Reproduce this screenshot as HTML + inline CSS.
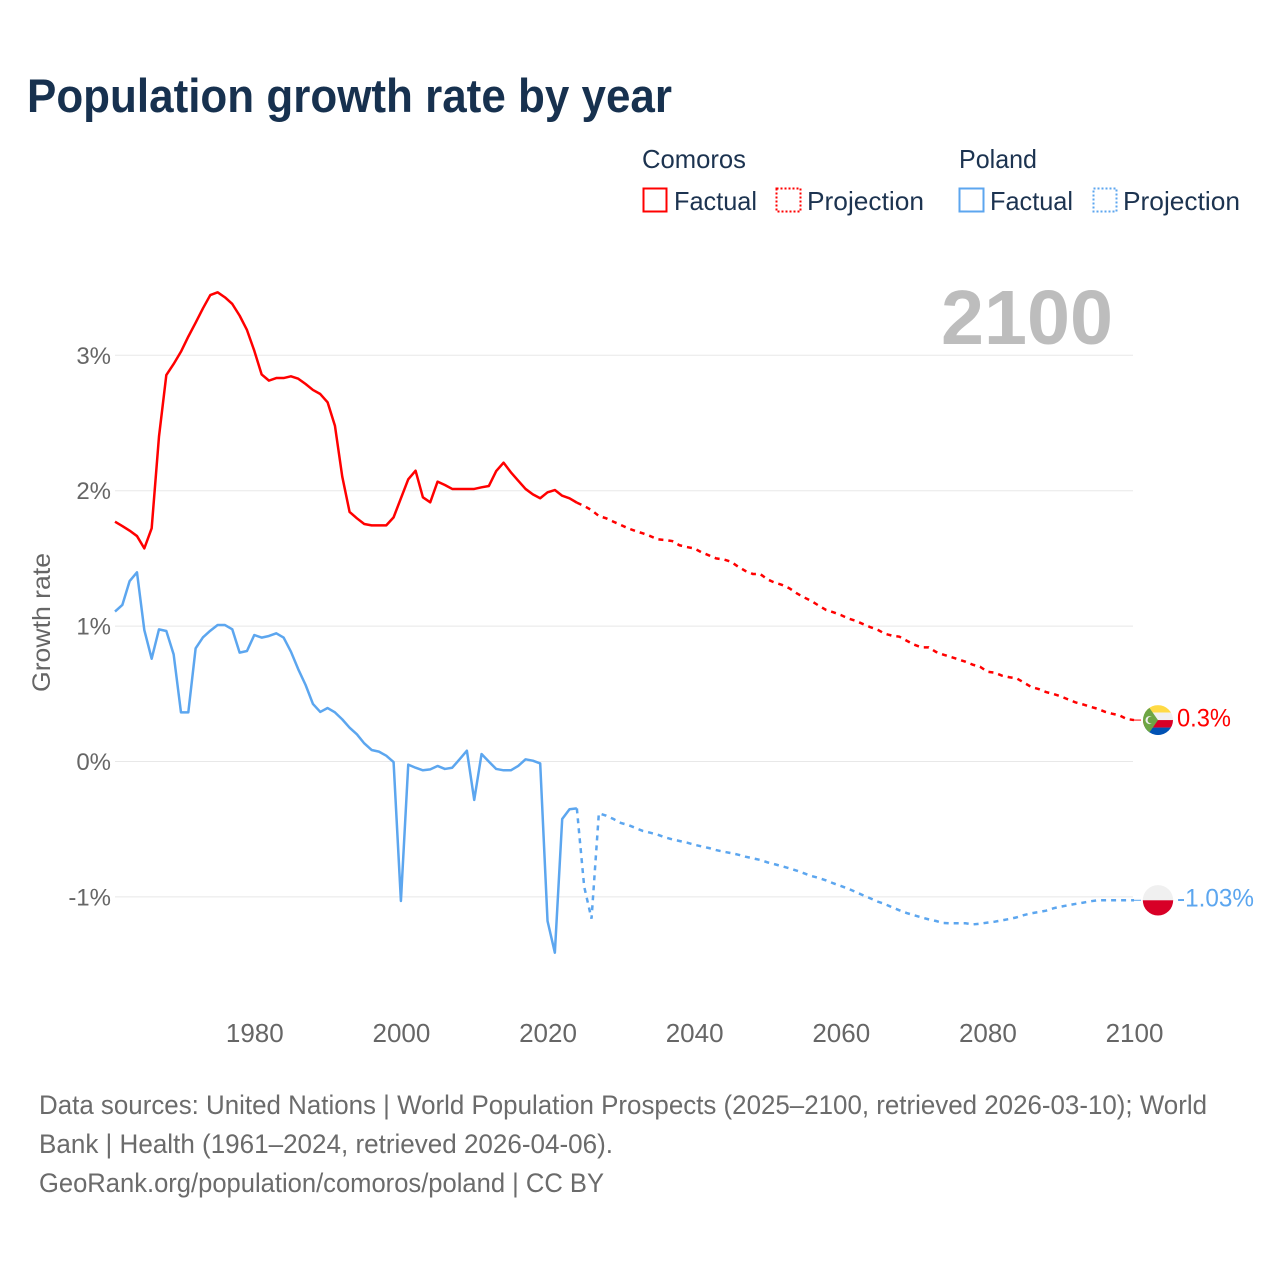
<!DOCTYPE html>
<html lang="en">
<head>
<meta charset="utf-8">
<title>Population growth rate by year</title>
<style>
  html, body { margin: 0; padding: 0; background: #ffffff; }
  #chart-root { width: 1280px; height: 1280px; display: block; }
  text { font-family: "Liberation Sans", sans-serif; }
</style>
</head>
<body>
<svg id="chart-root" xmlns="http://www.w3.org/2000/svg" width="1280" height="1280" viewBox="0 0 1280 1280">
  <rect x="0" y="0" width="1280" height="1280" fill="#ffffff"/>
  <text x="27" y="112" font-size="47" font-weight="700" fill="#17314f" textLength="645" lengthAdjust="spacingAndGlyphs">Population growth rate by year</text>

  <g font-size="26" fill="#1c3350">
    <text x="642" y="168" textLength="104" lengthAdjust="spacingAndGlyphs">Comoros</text>
    <text x="959" y="168" textLength="78" lengthAdjust="spacingAndGlyphs">Poland</text>
    <g>
      <rect x="643.5" y="188.5" width="23" height="23" fill="none" stroke="#ff0000" stroke-width="2"/>
      <text x="674" y="210" textLength="83" lengthAdjust="spacingAndGlyphs">Factual</text>
    </g>
    <g>
      <rect x="776.5" y="188.5" width="24" height="23" fill="none" stroke="#ff0000" stroke-width="2" stroke-dasharray="2 2"/>
      <text x="807" y="210" textLength="117" lengthAdjust="spacingAndGlyphs">Projection</text>
    </g>
    <g>
      <rect x="959.5" y="188.5" width="24" height="23" fill="none" stroke="#5ca6ef" stroke-width="2"/>
      <text x="990" y="210" textLength="83" lengthAdjust="spacingAndGlyphs">Factual</text>
    </g>
    <g>
      <rect x="1093.5" y="188.5" width="23" height="23" fill="none" stroke="#5ca6ef" stroke-width="2" stroke-dasharray="2 2"/>
      <text x="1123" y="210" textLength="117" lengthAdjust="spacingAndGlyphs">Projection</text>
    </g>
  </g>

  <text x="941" y="344" font-size="77" font-weight="700" fill="#bdbdbd" textLength="172" lengthAdjust="spacingAndGlyphs">2100</text>

  <g id="grid-layer"></g>
  <g id="y-tick-layer"></g>
  <g id="x-tick-layer"></g>
  <text transform="translate(50 692) rotate(-90)" font-size="25" fill="#666666" textLength="139" lengthAdjust="spacingAndGlyphs">Growth rate</text>
  <g id="series-layer"></g>

  <g id="comoros-end">
    <line id="comoros-connector" x1="1134" x2="1141" y1="0" y2="0" stroke="#ff0000" stroke-width="1"/>
    <g transform="translate(1158 0)">
      <clipPath id="comoros-clip"><circle cx="0" cy="0" r="15"/></clipPath>
      <g clip-path="url(#comoros-clip)">
        <rect x="-15" y="-15" width="30" height="7.5" fill="#ffda44"/>
        <rect x="-15" y="-7.5" width="30" height="7.5" fill="#f0f0f0"/>
        <rect x="-15" y="0" width="30" height="7.5" fill="#d80027"/>
        <rect x="-15" y="7.5" width="30" height="7.5" fill="#0052b4"/>
        <polygon points="-15,-15 -10.5,-15 0,0 -10.5,15 -15,15" fill="#6da544"/>
        <circle cx="-8.5" cy="0" r="4" fill="#f0f0f0"/>
        <circle cx="-7" cy="0" r="3.4" fill="#6da544"/>
      </g>
    </g>
    <text id="comoros-end-label" x="1177" y="6.5" font-size="25" fill="#ff0000" textLength="54" lengthAdjust="spacingAndGlyphs"></text>
  </g>

  <g id="poland-end">
    <line id="poland-connector" x1="1134" x2="1141" y1="0" y2="0" stroke="#5ca6ef" stroke-width="1"/>
    <g transform="translate(1158 0)">
      <clipPath id="poland-clip"><circle cx="0" cy="0" r="15.2"/></clipPath>
      <g clip-path="url(#poland-clip)">
        <rect x="-16" y="-16" width="32" height="16" fill="#f0f0f0"/>
        <rect x="-16" y="0" width="32" height="16" fill="#d80027"/>
      </g>
    </g>
    <text id="poland-end-label" x="1177" y="6" font-size="25" fill="#5ca6ef" textLength="77" lengthAdjust="spacingAndGlyphs"></text>
  </g>

  <g font-size="26.5" fill="#6b6b6b">
    <text x="39" y="1114" textLength="1168" lengthAdjust="spacingAndGlyphs">Data sources: United Nations | World Population Prospects (2025–2100, retrieved 2026-03-10); World</text>
    <text x="39" y="1153" textLength="574" lengthAdjust="spacingAndGlyphs">Bank | Health (1961–2024, retrieved 2026-04-06).</text>
    <text x="39" y="1192" textLength="565" lengthAdjust="spacingAndGlyphs">GeoRank.org/population/comoros/poland | CC BY</text>
  </g>
</svg>
<script>
const xTicks = [1980, 2000, 2020, 2040, 2060, 2080, 2100];
const yTicks = [3, 2, 1, 0, -1];
const yTickLabels = ["3%", "2%", "1%", "0%", "-1%"];
const factualStartYear = 1961;
const projectionStartYear = 2025;
const comorosEndLabel = ["0.3%"];
const polandEndLabel = ["-1.03%"];

const comorosFactual = [
  1.771,1.739,1.705,1.665,1.574,1.722,2.40,2.854,2.936,3.027,
  3.138,3.241,3.347,3.445,3.465,3.428,3.379,3.293,3.187,3.034,
  2.859,2.813,2.832,2.832,2.845,2.827,2.788,2.744,2.714,2.653,
  2.480,2.104,1.843,1.796,1.754,1.744,1.744,1.744,1.803,1.944,
  2.084,2.148,1.951,1.914,2.067,2.042,2.013,2.013,2.013,2.013,
  2.025,2.035,2.145,2.207,2.136,2.074,2.013,1.973,1.944,1.988,
  2.005,1.963,1.944,1.912
];
const comorosProjection = [
  1.887,1.857,1.813,1.796,1.771,1.747,1.722,1.702,1.685,1.665,
  1.641,1.636,1.628,1.597,1.584,1.574,1.545,1.523,1.500,1.493,
  1.476,1.439,1.407,1.385,1.385,1.345,1.321,1.304,1.279,1.242,
  1.212,1.185,1.151,1.119,1.102,1.082,1.057,1.040,1.016,0.993,
  0.974,0.944,0.929,0.922,0.892,0.863,0.843,0.843,0.809,0.789,
  0.772,0.755,0.737,0.715,0.700,0.663,0.656,0.634,0.622,0.614,
  0.582,0.550,0.535,0.513,0.499,0.481,0.459,0.437,0.422,0.405,
  0.390,0.368,0.353,0.341,0.314,0.306
];
const polandFactual = [
  1.107,1.156,1.333,1.397,0.971,0.759,0.976,0.964,0.791,0.363,
  0.363,0.836,0.917,0.966,1.008,1.008,0.976,0.804,0.816,0.934,
  0.915,0.927,0.947,0.915,0.811,0.681,0.565,0.425,0.366,0.395,
  0.363,0.311,0.250,0.201,0.134,0.085,0.073,0.043,-0.004,-1.030,
  -0.023,-0.046,-0.065,-0.058,-0.033,-0.055,-0.046,0.016,0.080,-0.284,
  0.055,-0.001,-0.055,-0.065,-0.065,-0.033,0.016,0.006,-0.014,-1.178,
  -1.412,-0.425,-0.353,-0.346
];
const polandProjection = [
  -0.924,-1.161,-0.383,-0.400,-0.425,-0.454,-0.469,-0.491,-0.513,-0.526,
  -0.540,-0.560,-0.575,-0.587,-0.599,-0.614,-0.627,-0.639,-0.654,-0.666,
  -0.676,-0.688,-0.703,-0.715,-0.727,-0.745,-0.759,-0.774,-0.789,-0.806,
  -0.826,-0.846,-0.860,-0.878,-0.900,-0.919,-0.939,-0.963,-0.987,-1.010,
  -1.034,-1.052,-1.077,-1.099,-1.119,-1.136,-1.151,-1.166,-1.178,-1.193,
  -1.195,-1.195,-1.195,-1.203,-1.198,-1.190,-1.183,-1.173,-1.163,-1.151,
  -1.134,-1.121,-1.112,-1.102,-1.084,-1.072,-1.062,-1.052,-1.043,-1.033,
  -1.025,-1.025,-1.025,-1.025,-1.025,-1.025
];

const SVG_NS = "http://www.w3.org/2000/svg";
const xScale = function (year) { return 115 + (year - 1961) * 7.331; };
const yScale = function (value) { return 761.5 - value * 135.4; };

const gridLayer = document.getElementById("grid-layer");
const yTickLayer = document.getElementById("y-tick-layer");
const xTickLayer = document.getElementById("x-tick-layer");
const seriesLayer = document.getElementById("series-layer");

yTicks.forEach(function (tick, i) {
  const line = document.createElementNS(SVG_NS, "line");
  
  
  line.setAttribute("x1", 115);
  line.setAttribute("x2", 1133);
  line.setAttribute("y1", yScale(tick));
  line.setAttribute("y2", yScale(tick));
  line.setAttribute("stroke", "#e8e8e8");
  line.setAttribute("stroke-width", "1");
  gridLayer.appendChild(line);

  const label = document.createElementNS(SVG_NS, "text");
  
  
  label.setAttribute("x", 111);
  label.setAttribute("y", yScale(tick) + 8.5);
  label.setAttribute("text-anchor", "end");
  label.setAttribute("font-size", "24");
  label.setAttribute("fill", "#666666");
  label.textContent = yTickLabels[i];
  yTickLayer.appendChild(label);
});

xTicks.forEach(function (tick) {
  const label = document.createElementNS(SVG_NS, "text");
  
  
  label.setAttribute("x", xScale(tick) + 0.5);
  label.setAttribute("y", 1042);
  label.setAttribute("text-anchor", "middle");
  label.setAttribute("font-size", "26");
  label.setAttribute("fill", "#666666");
  label.textContent = String(tick);
  xTickLayer.appendChild(label);
});

function pathFrom(values, startYear) {
  return values.map(function (v, i) {
    return (i ? "L" : "M") + xScale(startYear + i).toFixed(2) + " " + yScale(v).toFixed(2);
  }).join(" ");
}

const comorosFactualLine = document.createElementNS(SVG_NS, "path");


comorosFactualLine.setAttribute("d", pathFrom(comorosFactual, factualStartYear));
comorosFactualLine.setAttribute("fill", "none");
comorosFactualLine.setAttribute("stroke", "#ff0000");
comorosFactualLine.setAttribute("stroke-width", "2.5");
comorosFactualLine.setAttribute("stroke-linejoin", "round");
seriesLayer.appendChild(comorosFactualLine);

const comorosProjectionLine = document.createElementNS(SVG_NS, "path");


comorosProjectionLine.setAttribute("d", pathFrom(comorosFactual.slice(-1).concat(comorosProjection), projectionStartYear - 1));
comorosProjectionLine.setAttribute("fill", "none");
comorosProjectionLine.setAttribute("stroke", "#ff0000");
comorosProjectionLine.setAttribute("stroke-width", "2.5");
comorosProjectionLine.setAttribute("stroke-dasharray", "5 5");
seriesLayer.appendChild(comorosProjectionLine);

const polandFactualLine = document.createElementNS(SVG_NS, "path");


polandFactualLine.setAttribute("d", pathFrom(polandFactual, factualStartYear));
polandFactualLine.setAttribute("fill", "none");
polandFactualLine.setAttribute("stroke", "#5ca6ef");
polandFactualLine.setAttribute("stroke-width", "2.5");
polandFactualLine.setAttribute("stroke-linejoin", "round");
seriesLayer.appendChild(polandFactualLine);

const polandProjectionLine = document.createElementNS(SVG_NS, "path");


polandProjectionLine.setAttribute("d", pathFrom(polandFactual.slice(-1).concat(polandProjection), projectionStartYear - 1));
polandProjectionLine.setAttribute("fill", "none");
polandProjectionLine.setAttribute("stroke", "#5ca6ef");
polandProjectionLine.setAttribute("stroke-width", "2.5");
polandProjectionLine.setAttribute("stroke-dasharray", "5 5");
seriesLayer.appendChild(polandProjectionLine);

const comorosEndY = yScale(comorosProjection[comorosProjection.length - 1]);
const polandEndY = yScale(polandProjection[polandProjection.length - 1]);
document.getElementById("comoros-end").setAttribute("transform", "translate(0 " + comorosEndY.toFixed(2) + ")");
document.getElementById("poland-end").setAttribute("transform", "translate(0 " + polandEndY.toFixed(2) + ")");
document.getElementById("comoros-end-label").textContent = comorosEndLabel[0];
document.getElementById("poland-end-label").textContent = polandEndLabel[0];
</script>
</body>
</html>
